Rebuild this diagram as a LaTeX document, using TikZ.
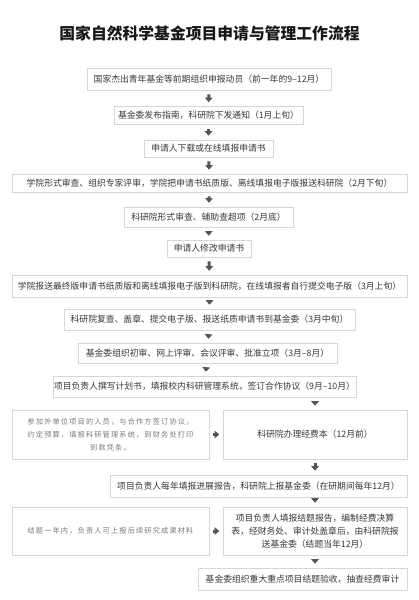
\documentclass[tikz,border=0pt]{standalone}
\usepackage{fontspec}
\setmainfont{Noto Sans CJK SC}
\newfontfamily\notefont[LetterSpace=16]{Noto Sans CJK SC}
\usetikzlibrary{arrows.meta}
\definecolor{boxline}{HTML}{D6D6D6}
\definecolor{boxtext}{HTML}{383838}
\definecolor{notetext}{HTML}{7A7A7A}
\definecolor{arrowgray}{HTML}{555555}
\begin{document}
\begin{tikzpicture}[x=1pt, y=-1pt, line join=round,
		stepbox/.style={draw=boxline, line width=0.6pt, fill=white, text=boxtext, inner sep=0pt, align=center, font=\fontsize{8.8}{13}\selectfont},
		notebox/.style={stepbox, text=notetext, font=\notefont\fontsize{7.2}{13}\selectfont},
		flow/.style={-{Triangle[width=7.5pt,length=4.5pt]}, line width=3pt, arrowgray, shorten <=#1, shorten >=#1},
		flow/.default=4pt]
			\useasboundingbox[fill=white] (0,0) rectangle (419,600);
			\node[text=black!90, font=\fontsize{15.8}{18}\selectfont\bfseries] (title) at (209.5,33) {国家自然科学基金项目申请与管理工作流程};
			\node[stepbox, minimum width=244pt, minimum height=22pt] (b1) at (209,79) {国家杰出青年基金等前期组织申报动员（前一年的9–12月）};
			\node[stepbox, minimum width=189pt, minimum height=18pt] (b2) at (208.5,115.5) {基金委发布指南，科研院下发通知（1月上旬）};
			\node[stepbox, minimum width=129pt, minimum height=17pt] (b3) at (208.5,148.5) {申请人下载或在线填报申请书};
			\node[stepbox, minimum width=395pt, minimum height=18pt] (b4) at (209.5,183) {学院形式审查、组织专家评审，学院把申请书纸质版、离线填报电子版报送科研院（2月下旬）};
			\node[stepbox, minimum width=169pt, minimum height=20pt] (b5) at (208.5,217) {科研院形式审查、辅助查超项（2月底）};
			\node[stepbox, minimum width=84pt, minimum height=17pt] (b6) at (209,248.5) {申请人修改申请书};
			\node[stepbox, minimum width=395pt, minimum height=22pt] (b7) at (209.5,286) {学院报送最终版申请书纸质版和离线填报电子版到科研院，在线填报者自行提交电子版（3月上旬）};
			\node[stepbox, minimum width=291pt, minimum height=21pt] (b8) at (209.5,319.5) {科研院复查、盖章、提交电子版、报送纸质申请书到基金委（3月中旬）};
			\node[stepbox, minimum width=259pt, minimum height=20pt] (b9) at (207.5,353) {基金委组织初审、网上评审、会议评审、批准立项（3月–8月）};
			\node[stepbox, minimum width=303pt, minimum height=21pt] (b10) at (204.5,386.5) {项目负责人撰写计划书，填报校内科研管理系统，签订合作协议（9月–10月）};
			\node[notebox, minimum width=197pt, minimum height=49pt] (n1) at (110.5,434.5) {参加外单位项目的人员，与合作方签订协议，\\约定预算，填报科研管理系统，到财务处打印\\到款凭条。};
			\node[stepbox, minimum width=184pt, minimum height=49pt] (b11) at (315,434.5) {科研院办理经费本（12月前）};
			\node[stepbox, minimum width=297pt, minimum height=22pt] (b12) at (258.5,486) {项目负责人每年填报进展报告，科研院上报基金委（在研期间每年12月）};
			\node[notebox, minimum width=197pt, minimum height=48pt] (n2) at (110.5,531) {结题一年内，负责人可上报后续研究成果材料};
			\node[stepbox, minimum width=184pt, minimum height=48pt] (b13) at (315,531) {项目负责人填报结题报告，编制经费决算\\表，经财务处、审计处盖章后，由科研院报\\送基金委（结题当年12月）};
			\node[stepbox, minimum width=209pt, minimum height=22pt] (b14) at (302.5,579) {基金委组织重大重点项目结题验收，抽查经费审计};
			\foreach \a/\b in {b1/b2, b2/b3, b3/b4, b4/b5, b5/b6, b6/b7, b7/b8, b8/b9, b9/b10} {
				\draw[flow] (\a) -- (\b);
			}
			\draw[flow] (b11.north |- b10.south) -- (b11.north);
			\foreach \a/\b in {b11/b12, b12/b13, b13/b14} {
				\draw[flow] (b11.center |- \a.south) -- (b11.center |- \b.north);
			}
			\draw[flow=3.5pt] (n1) -- (b11);
			\draw[flow=3.5pt] (n2) -- (b13);
\end{tikzpicture}
\end{document}
